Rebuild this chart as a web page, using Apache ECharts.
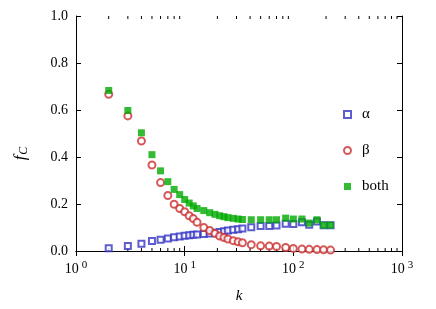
<!DOCTYPE html>
<html>
<head>
<meta charset="utf-8">
<script src="https://cdn.jsdelivr.net/npm/echarts@6/dist/echarts.min.js"></script>
<style>html,body{margin:0;padding:0;background:#fff}#c{width:436px;height:309px}</style>
</head>
<body>
<div id="c"></div>
<script>
// degree k values (x positions of markers)
var kValues = [2,3,4,5,6,7,8,9,10,11,12,13,15,17,19,21,23,25,28,31,34,41,50,60,70,85,100,120,140,165,190,220];
// fraction f_C for each class
var alphaVals = [0.012,0.021,0.031,0.043,0.048,0.053,0.058,0.062,0.065,0.067,0.069,0.070,0.072,0.075,0.078,0.081,0.084,0.087,0.090,0.093,0.096,0.101,0.106,0.106,0.108,0.116,0.115,0.122,0.112,0.126,0.110,0.110];
var betaVals  = [0.667,0.575,0.468,0.366,0.291,0.236,0.199,0.181,0.167,0.150,0.138,0.122,0.100,0.087,0.075,0.064,0.057,0.051,0.044,0.039,0.035,0.027,0.022,0.021,0.019,0.015,0.011,0.008,0.007,0.006,0.005,0.004];
var bothVals  = [0.683,0.598,0.503,0.410,0.341,0.295,0.262,0.240,0.219,0.204,0.192,0.181,0.172,0.163,0.156,0.150,0.146,0.142,0.139,0.136,0.134,0.133,0.133,0.133,0.133,0.140,0.136,0.136,0.119,0.133,0.110,0.110];
var seriesNames = ['\u03b1','\u03b2','both'];
var minorTicks = [2,3,4,5,6,7,8,9,20,30,40,50,60,70,80,90,200,300,400,500,600,700,800,900];

function pairs(vals){ return kValues.map(function(k,i){ return [k, vals[i]]; }); }

var FONT = '"Liberation Serif","DejaVu Serif",serif';
var blue = '#3434c4', red = '#cc3030', green = '#00aa00';

var chart = echarts.init(document.getElementById('c'), null, {renderer:'canvas'});
var xCommon = {
  type:'log', logBase:10, min:1, max:1000,
  axisLine:{show:true, lineStyle:{color:'#000', width:1}},
  axisTick:{show:true, inside:true, length:5, lineStyle:{color:'#000'}},
  splitLine:{show:false}
};
var yCommon = {
  type:'value', min:0, max:1, interval:0.2,
  axisLine:{show:true, lineStyle:{color:'#000', width:1}},
  axisTick:{show:true, inside:true, length:5, lineStyle:{color:'#000'}},
  splitLine:{show:false}
};
chart.setOption({
  animation:false,
  grid:{left:76, right:34, top:16, bottom:50},
  xAxis:[
    Object.assign({}, xCommon, {
      position:'bottom',
      name:'k', nameLocation:'middle', nameGap:38,
      nameTextStyle:{fontFamily:FONT, fontStyle:'italic', fontSize:15, color:'#000'},
      axisLabel:{
        margin:9,
        formatter:function(v){ return '{b|10}{e|'+Math.round(Math.log10(v))+'}'; },
        rich:{
          b:{fontFamily:FONT, fontSize:14, color:'#000'},
          e:{fontFamily:FONT, fontSize:11, color:'#000', padding:[0,0,7,3]}
        }
      }
    }),
    Object.assign({}, xCommon, {position:'top', axisLabel:{show:false}})
  ],
  yAxis:[
    Object.assign({}, yCommon, {
      position:'left',
      name:'{f|f}{s|C}', nameLocation:'middle', nameGap:46, nameRotate:90,
      nameTextStyle:{
        padding:[0,40,0,0],
        rich:{
          f:{fontFamily:FONT, fontStyle:'italic', fontSize:17, color:'#000'},
          s:{fontFamily:FONT, fontStyle:'italic', fontSize:12, color:'#000', padding:[6,0,0,1]}
        }
      },
      axisLabel:{margin:8, fontFamily:FONT, fontSize:14, color:'#000',
        formatter:function(v){ return v.toFixed(1); }}
    }),
    Object.assign({}, yCommon, {position:'right', axisLabel:{show:false}})
  ],
  legend:{
    orient:'vertical', left:338, top:102, itemGap:21,
    itemWidth:7, itemHeight:7,
    data:seriesNames,
    textStyle:{fontFamily:FONT, fontSize:15, color:'#000', padding:[0,0,0,6]}
  },
  series:[
    {
      type:'custom', silent:true, xAxisIndex:0, yAxisIndex:0, z:1,
      data:minorTicks.map(function(v){ return [v, 0]; }),
      renderItem:function(params, api){
        var b = api.coord([api.value(0), 0]);
        var t = api.coord([api.value(0), 1]);
        var st = {stroke:'#000', lineWidth:1};
        return {type:'group', children:[
          {type:'line', shape:{x1:b[0], y1:b[1], x2:b[0], y2:b[1]-3}, style:st},
          {type:'line', shape:{x1:t[0], y1:t[1], x2:t[0], y2:t[1]+3}, style:st}
        ]};
      }
    },
    {
      name:seriesNames[0], type:'scatter', symbol:'emptyRect', symbolSize:6, z:2,
      itemStyle:{color:blue, borderWidth:1},
      data:pairs(alphaVals)
    },
    {
      name:seriesNames[1], type:'scatter', symbol:'emptyCircle', symbolSize:7, z:3,
      itemStyle:{color:red, borderWidth:1},
      data:pairs(betaVals)
    },
    {
      name:seriesNames[2], type:'scatter', symbol:'rect', symbolSize:7, z:4,
      itemStyle:{color:green},
      data:pairs(bothVals)
    }
  ]
});
</script>
</body>
</html>
